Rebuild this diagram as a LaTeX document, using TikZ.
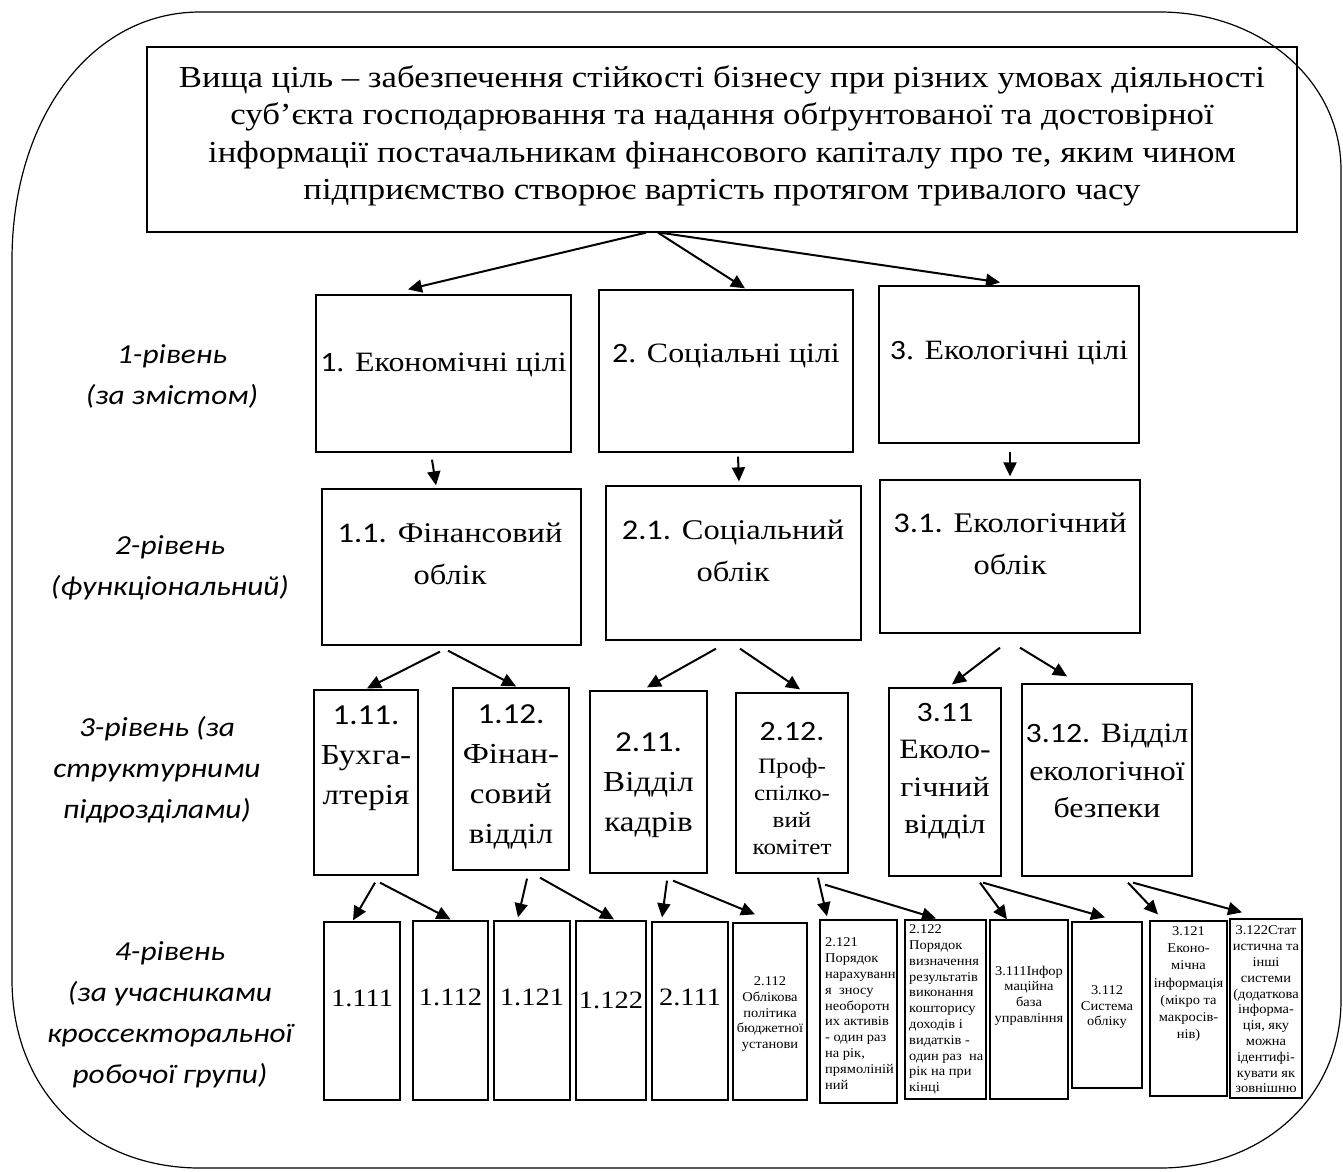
\documentclass[tikz,border=0pt]{standalone}
\usepackage{fontspec}
\setmainfont{Liberation Serif}[FakeStretch=1.14]
\newfontfamily\calfont{Carlito}[FakeStretch=1.14]
\newfontfamily\smallserif{Liberation Serif}[FakeStretch=1.08]
\usetikzlibrary{arrows.meta}
\begin{document}
\begin{tikzpicture}[x=1pt,y=-1pt,
  box/.style={draw, line width=1.3pt, inner sep=0pt},
  arr/.style={line width=2pt, -{Triangle[length=14pt,width=13pt]}},
  txt/.style={align=center, inner sep=0pt},
  ltxt/.style={align=left, inner sep=0pt, anchor=west},
  lvl/.style={align=center, inner sep=0pt, font=\calfont\itshape\fontsize{27.5}{41}\selectfont},
  fone/.style={font=\fontsize{28}{32}\selectfont},
  ftwo/.style={font=\fontsize{28.5}{42}\selectfont},
  fthree/.style={font=\fontsize{29}{40}\selectfont},
  ffour/.style={font=\fontsize{25}{30}\selectfont},
  fsmall/.style={font=\smallserif\fontsize{13.4}{15.8}\selectfont}]
\useasboundingbox (0,0) rectangle (1343,1171);
% outer frame
\draw[line width=1.2pt] (12,260) .. controls (12,120) and (90,12) .. (200,12) -- (1160,12)
  .. controls (1260,12) and (1341,80) .. (1341,170) -- (1341,1000)
  .. controls (1341,1100) and (1260,1168) .. (1160,1168) -- (200,1168)
  .. controls (90,1168) and (12,1090) .. (12,980) -- cycle;
% boxes
\node[box, minimum width=1150, minimum height=185] (top) at (722,139.5) {};
\node[box, minimum width=255, minimum height=157] (e) at (443.5,373.5) {};
\node[box, minimum width=254, minimum height=162] (s) at (726,371) {};
\node[box, minimum width=260, minimum height=157] (k) at (1009,364.5) {};
\node[box, minimum width=259, minimum height=156] (f) at (451.5,567) {};
\node[box, minimum width=255, minimum height=154] (so) at (733.5,563) {};
\node[box, minimum width=260, minimum height=153] (ek) at (1010,556.5) {};
\node[box, minimum width=104, minimum height=185] (b) at (366,782.5) {};
\node[box, minimum width=116, minimum height=182] (fv) at (511,779) {};
\node[box, minimum width=117, minimum height=182] (vk) at (648.5,782) {};
\node[box, minimum width=112, minimum height=180] (pk) at (792,783) {};
\node[box, minimum width=112, minimum height=188] (ev) at (945,782) {};
\node[box, minimum width=170, minimum height=192] (eb) at (1107,780) {};
\node[box, minimum width=76, minimum height=178] (a1) at (362,1011) {};
\node[box, minimum width=75, minimum height=179] (a2) at (450.5,1010.5) {};
\node[box, minimum width=76, minimum height=179] (a3) at (532,1010.5) {};
\node[box, minimum width=70, minimum height=179] (a4) at (611,1010.5) {};
\node[box, minimum width=76, minimum height=178] (a5) at (690,1011) {};
\node[box, minimum width=74, minimum height=177] (a6) at (770,1011.5) {};
\node[box, minimum width=77, minimum height=183] (a7) at (858.5,1011.5) {};
\node[box, minimum width=81, minimum height=179] (a8) at (945.5,1009.5) {};
\node[box, minimum width=78, minimum height=179] (a9) at (1029,1009.5) {};
\node[box, minimum width=70, minimum height=166] (a10) at (1107,1005) {};
\node[box, minimum width=77, minimum height=175] (a11) at (1188.5,1008.5) {};
\node[box, minimum width=72, minimum height=179] (a12) at (1266,1008.5) {};
% texts
\node[txt, font=\fontsize{30.5}{37.5}\selectfont] (ttop) at (722,136) {Вища ціль – забезпечення стійкості бізнесу при різних умовах діяльності\\суб’єкта господарювання та надання обґрунтованої та достовірної\\інформації постачальникам фінансового капіталу про те, яким чином\\підприємство створює вартість протягом тривалого часу};
\node[txt, fone] (te) at (443.5,365) {{\calfont 1}. Економічні цілі};
\node[txt, fone] (ts) at (726,356) {{\calfont 2}. Соціальні цілі};
\node[txt, fone] (tk) at (1009,353) {{\calfont 3}. Екологічні цілі};
\node[txt, ftwo] (tf) at (450,554) {{\calfont 1.1.} Фінансовий\\облік};
\node[txt, ftwo] (tso) at (733,551) {{\calfont 2.1.} Соціальний\\облік};
\node[txt, ftwo] (tek) at (1010,544) {{\calfont 3.1.} Екологічний\\облік};
\node[txt, fthree] (tb) at (366,758) {{\calfont 1.11.}\\Бухга-\\лтерія};
\node[txt, fthree] (tfv) at (511,777) {{\calfont 1.12.}\\Фінан-\\совий\\відділ};
\node[txt, fthree] (tvk) at (648.5,785) {{\calfont 2.11.}\\Відділ\\кадрів};
\node[txt, font=\calfont\fontsize{28}{34}\selectfont] (tpk1) at (792,732) {2.12.};
\node[txt, font=\fontsize{22}{27}\selectfont] (tpk2) at (792,806) {Проф-\\спілко-\\вий\\комітет};
\node[txt, font=\fontsize{28}{37.5}\selectfont] (tev) at (945,771) {{\calfont 3.11}\\Еколо-\\гічний\\відділ};
\node[txt, font=\fontsize{28}{37.5}\selectfont] (teb) at (1107,771) {{\calfont 3.12.} Відділ\\екологічної\\безпеки};
\node[txt, ffour] (ta1) at (362,998) {1.111};
\node[txt, ffour] (ta2) at (450.5,997) {1.112};
\node[txt, ffour] (ta3) at (532,997) {1.121};
\node[txt, ffour] (ta4) at (611,1000) {1.122};
\node[txt, ffour] (ta5) at (690,997) {2.111};
\node[txt, fsmall] (ta6) at (770,1014) {2.112\\Облікова\\політика\\бюджетної\\установи};
\node[ltxt, fsmall] (ta7) at (825,1013.5) {2.121\\Порядок\\нарахуванн\\я\ \ зносу\\необоротн\\их активів\\- один раз\\на рік,\\прямоліній\\ний};
\node[ltxt, fsmall] (ta8) at (909,1009.5) {2.122\\Порядок\\визначення\\результатів\\виконання\\кошторису\\доходів і\\видатків -\\один раз\ \ на\\рік на при\\кінці};
\node[txt, fsmall] (ta9) at (1029,995.5) {3.111Інфор\\маційна\\база\\управління};
\node[txt, fsmall] (ta10) at (1107,1007) {3.112\\Система\\обліку};
\node[txt, font=\smallserif\fontsize{13.4}{17.3}\selectfont] (ta11) at (1188.5,984) {3.121\\Еконо-\\мічна\\інформація\\(мікро та\\макросів-\\нів)};
\node[txt, fsmall] (ta12) at (1266,1009.5) {3.122Стат\\истична та\\інші\\системи\\(додаткова\\інформа-\\ція, яку\\можна\\ідентифі-\\кувати як\\зовнішню};
% level labels
\node[lvl] (l1) at (172,376) {1-рівень\\(за змістом)};
\node[lvl] (l2) at (170,568) {2-рівень\\(функціональний)};
\node[lvl] (l3) at (157,770) {3-рівень (за\\структурними\\підрозділами)};
\node[lvl] (l4) at (170,1015) {4-рівень\\(за учасниками\\кроссекторальної\\робочої групи)};
% arrows top -> level 1
\draw[arr] ([xshift=-76pt]top.south) -- ([xshift=-35.5pt,yshift=5pt]e.north);
\draw[arr] ([xshift=-64pt]top.south) -- ([xshift=19pt,yshift=1pt]s.north);
\draw[arr] ([xshift=-62pt]top.south) -- ([xshift=-9pt,yshift=3pt]k.north);
% level 1 -> level 2
\draw[arr] ([xshift=-11.5pt,yshift=-7pt]e.south) -- ([xshift=-15.5pt,yshift=3pt]f.north);
\draw[arr] ([xshift=12pt,yshift=-4pt]s.south) -- ([xshift=5.5pt,yshift=4pt]so.north);
\draw[arr] ([xshift=1pt,yshift=-8pt]k.south) -- ([yshift=3pt]ek.north);
% level 2 -> level 3
\draw[arr] ([xshift=-11.5pt,yshift=-6pt]f.south) -- ([xshift=1pt,yshift=1pt]b.north);
\draw[arr] ([xshift=-3.5pt,yshift=-5pt]f.south) -- ([xshift=5pt,yshift=1pt]fv.north);
\draw[arr] ([xshift=-17.5pt,yshift=-8pt]so.south) -- ([xshift=-1.5pt,yshift=3pt]vk.north);
\draw[arr] ([xshift=6.5pt,yshift=-8pt]so.south) -- ([xshift=8pt,yshift=3pt]pk.north);
\draw[arr] ([xshift=-10pt,yshift=-14pt]ek.south) -- ([xshift=7pt,yshift=3pt]ev.north);
\draw[arr] ([xshift=10pt,yshift=-14pt]ek.south) -- ([xshift=-40pt,yshift=7pt]eb.north);
% level 3 -> level 4
\draw[arr] ([xshift=9pt,yshift=-7pt]b.south) -- ([xshift=-9pt,yshift=1pt]a1.north);
\draw[arr] ([xshift=14pt,yshift=-7pt]b.south) -- ([xshift=0pt,yshift=1pt]a2.north);
\draw[arr] ([xshift=16pt,yshift=-8pt]fv.south) -- ([xshift=-14pt,yshift=3pt]a3.north);
\draw[arr] ([xshift=29pt,yshift=-7pt]fv.south) -- ([xshift=3pt,yshift=1pt]a4.north);
\draw[arr] ([xshift=18.5pt,yshift=-7pt]vk.south) -- ([xshift=-28pt,yshift=4pt]a5.north);
\draw[arr] ([xshift=24.5pt,yshift=-7pt]vk.south) -- ([xshift=-15pt,yshift=8pt]a6.north);
\draw[arr] ([xshift=26pt,yshift=-4pt]pk.south) -- ([xshift=-31.5pt,yshift=3pt]a7.north);
\draw[arr] ([xshift=33pt,yshift=-11pt]pk.south) -- ([xshift=-9.5pt,yshift=1pt]a8.north);
\draw[arr] ([xshift=35pt,yshift=-6pt]ev.south) -- ([xshift=-22pt,yshift=0pt]a9.north);
\draw[arr] ([xshift=38pt,yshift=-6pt]ev.south) -- ([xshift=-2pt,yshift=4pt]a10.north);
\draw[arr] ([xshift=21pt,yshift=-6pt]eb.south) -- ([xshift=-30.5pt,yshift=6pt]a11.north);
\draw[arr] ([xshift=26pt,yshift=-6pt]eb.south) -- ([xshift=-24pt,yshift=6pt]a12.north);
\end{tikzpicture}
\end{document}
